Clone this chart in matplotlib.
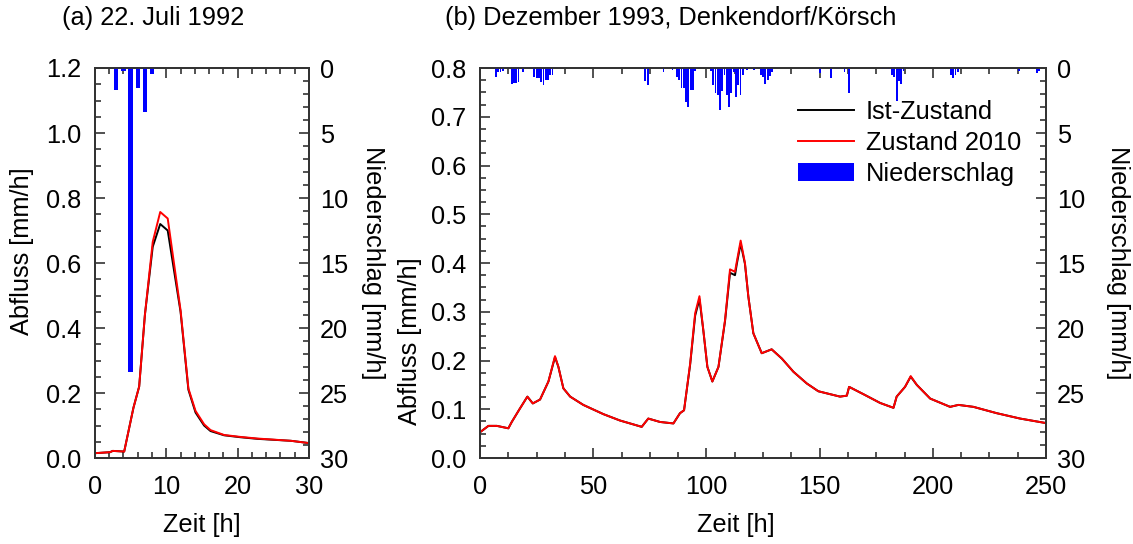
import numpy as np
import matplotlib
matplotlib.use('Agg')
import matplotlib.pyplot as plt
from matplotlib.ticker import MultipleLocator

plt.rcParams['font.family'] = ['Liberation Sans', 'DejaVu Sans']
FS = 18.3

# (a) 22. Juli 1992
a_time = [0, 2.1, 2.5, 4.1, 5.4, 6.2, 7.0, 8.1, 9.15, 10.2, 12.0, 13.1, 14.1, 15.3, 16.2, 18.1, 20.4, 22.8, 27.5, 30.0]
a_ist = [0.015, 0.018, 0.022, 0.02, 0.155, 0.22, 0.44, 0.65, 0.72, 0.70, 0.45, 0.21, 0.14, 0.10, 0.083, 0.07, 0.064, 0.059, 0.053, 0.046]
a_2010 = [0.015, 0.018, 0.022, 0.02, 0.155, 0.22, 0.44, 0.665, 0.757, 0.737, 0.455, 0.214, 0.145, 0.104, 0.086, 0.071, 0.065, 0.060, 0.053, 0.046]
a_rain_h = [3, 4, 5, 6, 7, 8]
a_rain = [1.7, 0.25, 23.4, 1.5, 3.4, 0.45]

# (b) Dezember 1993
b_time = [0, 3.7, 7.4, 12.5, 14, 17.4, 20.9, 23.3, 26.5, 30.2, 33.1, 34.6, 36.8, 39.8, 45.6,
          54.5, 61.8, 71.4, 74.3, 79.5, 85.4, 88.3, 90.1, 92.8, 95, 96.9, 98.6, 100.4, 102.6,
          105.3, 108.2, 110.4, 112.6, 113.4, 115.1, 117, 118.5, 120.7, 124.4, 128.8, 133.3,
          138.4, 144.3, 149.4, 154.6, 159, 162, 163, 169.3, 176.7, 182.6, 184, 187.7, 190.2,
          192.9, 198.8, 207.6, 211.3, 217.9, 228.2, 238.5, 249.6]
b_2010 = [0.053, 0.066, 0.066, 0.061, 0.074, 0.10, 0.126, 0.112, 0.12, 0.157, 0.209, 0.187,
          0.143, 0.126, 0.109, 0.090, 0.077, 0.064, 0.081, 0.074, 0.071, 0.092, 0.098, 0.194,
          0.297, 0.332, 0.263, 0.187, 0.157, 0.187, 0.283, 0.387, 0.382, 0.403, 0.446, 0.40,
          0.331, 0.256, 0.215, 0.223, 0.204, 0.177, 0.153, 0.137, 0.131, 0.126, 0.128, 0.146,
          0.131, 0.113, 0.103, 0.126, 0.146, 0.168, 0.150, 0.122, 0.105, 0.109, 0.105, 0.092,
          0.081, 0.072]
b_ist = [0.053, 0.066, 0.066, 0.061, 0.074, 0.10, 0.126, 0.112, 0.12, 0.157, 0.207, 0.187,
         0.143, 0.126, 0.109, 0.090, 0.077, 0.064, 0.081, 0.074, 0.071, 0.092, 0.098, 0.192,
         0.292, 0.326, 0.262, 0.187, 0.157, 0.187, 0.281, 0.380, 0.375, 0.398, 0.440, 0.398,
         0.331, 0.256, 0.215, 0.223, 0.204, 0.177, 0.153, 0.137, 0.131, 0.126, 0.128, 0.146,
         0.131, 0.113, 0.103, 0.126, 0.146, 0.167, 0.150, 0.122, 0.105, 0.109, 0.105, 0.092,
         0.081, 0.072]
b_rain_h = [7, 8, 9, 10, 14, 15, 16, 17, 19, 23, 24, 25, 26, 27, 28, 29, 30, 31, 32,
            73, 74, 81, 85, 87, 88, 89, 90, 91, 92, 93, 94, 95, 102, 103, 104, 105, 106, 107,
            108, 109, 110, 111, 112, 113, 114, 115, 116, 118, 121, 124, 125, 126, 127, 128, 129,
            150, 155, 158, 161, 163, 178, 180, 182, 183, 184, 185, 186, 187, 208, 209, 210, 211,
            238, 246, 247]
b_rain = [0.67, 0.3, 0.3, 0.2, 1.25, 1.13, 1.13, 1.1, 0.3, 0.1, 0.7, 0.8, 0.8, 1.1, 1.33, 0.9, 0.9, 0.5, 0.5,
          1.0, 1.3, 0.3, 0.15, 0.7, 0.9, 1.5, 1.5, 2.6, 3.0, 1.7, 1.7, 0.2, 0.2, 1.3, 1.9, 2.1, 3.2, 1.8,
          0.5, 2.1, 3.0, 1.9, 0.3, 2.2, 1.3, 2.1, 0.5, 0.15, 0.15, 0.5, 0.7, 1.2, 0.9, 0.6, 0.3,
          0.4, 0.8, 0.1, 0.3, 1.9, 0.1, 0.1, 0.5, 0.7, 2.5, 1.0, 1.2, 0.2, 0.5, 0.8, 0.5, 0.3,
          0.2, 0.4, 0.2]

spine_col = '#333333'


def style(ax, xmaj, xmin, ymaj, ymin, right=False):
    ax.xaxis.set_major_locator(MultipleLocator(xmaj))
    ax.xaxis.set_minor_locator(MultipleLocator(xmin))
    ax.yaxis.set_major_locator(MultipleLocator(ymaj))
    ax.yaxis.set_minor_locator(MultipleLocator(ymin))
    ax.tick_params(which='both', direction='in', top=True, bottom=True,
                   left=not right, right=right, labelleft=not right, labelright=right,
                   color=spine_col, width=1.2, labelsize=FS)
    ax.tick_params(which='major', length=7)
    ax.tick_params(which='minor', length=4)
    ax.tick_params(axis='x', pad=12)
    ax.tick_params(axis='y', pad=10 if not right else 8)
    for s in ax.spines.values():
        s.set_color(spine_col)
        s.set_linewidth(1.3)


fig = plt.figure(figsize=(11.33, 5.44), dpi=100)

# panel (a)
axa = fig.add_axes([0.0838, 0.158, 0.1889, 0.717])
axa.plot(a_time, a_ist, color='black', lw=1.4, label='Ist-Zustand')
axa.plot(a_time, a_2010, color='red', lw=1.4, label='Zustand 2010')
axa.set_xlim(0, 30)
axa.set_ylim(0, 1.2)
style(axa, 10, 2, 0.2, 0.05)
axa.set_xlabel('Zeit [h]', fontsize=FS)
axa.xaxis.set_label_coords(0.5, -0.14)
axa.set_ylabel('Abfluss [mm/h]', fontsize=FS, va='center', ha='center')
axa.yaxis.set_label_coords(-0.34, 0.53)
axa.yaxis.set_major_formatter(lambda v, p: f'{v:.1f}')

axa2 = axa.twinx()
axa2.bar(a_rain_h, a_rain, width=0.6, color='blue', align='center')
axa2.set_ylim(30, 0)
style(axa2, 10, 2, 5, 1, right=True)
axa2.tick_params(top=False, bottom=False, labelbottom=False)
axa2.set_ylabel('Niederschlag [mm/h]', fontsize=FS, rotation=270, va='center', ha='center')
axa2.yaxis.set_label_coords(1.30, 0.50)

# panel (b)
axb = fig.add_axes([0.4237, 0.158, 0.4996, 0.717])
axb.plot(b_time, b_ist, color='black', lw=1.4, label='Ist-Zustand')
axb.plot(b_time, b_2010, color='red', lw=1.4, label='Zustand 2010')
axb.set_xlim(0, 250)
axb.set_ylim(0, 0.8)
style(axb, 50, 12.5, 0.1, 0.025)
axb.set_xlabel('Zeit [h]', fontsize=FS)
axb.xaxis.set_label_coords(0.452, -0.14)
axb.set_ylabel('Abfluss [mm/h]', fontsize=FS, va='center', ha='center')
axb.yaxis.set_label_coords(-0.124, 0.30)
axb.yaxis.set_major_formatter(lambda v, p: f'{v:.1f}')

axb2 = axb.twinx()
bars = axb2.bar(b_rain_h, b_rain, width=0.8, color='blue', align='center',
                label='Niederschlag')
axb2.set_ylim(30, 0)
style(axb2, 50, 12.5, 5, 1, right=True)
axb2.tick_params(top=False, bottom=False, labelbottom=False)
axb2.set_ylabel('Niederschlag [mm/h]', fontsize=FS, rotation=270, va='center', ha='center')
axb2.yaxis.set_label_coords(1.127, 0.50)

h1, l1 = axb.get_legend_handles_labels()
leg = axb2.legend(h1 + [bars], l1 + ['Niederschlag'], loc='upper left',
                  bbox_to_anchor=(0.562, 0.918), frameon=False, fontsize=FS,
                  borderpad=0, borderaxespad=0, handlelength=2.2,
                  handletextpad=0.45, labelspacing=0.28)

fig.text(0.0547, 0.967, '(a) 22. Juli 1992', fontsize=FS, ha='left', va='center')
fig.text(0.3928, 0.967, '(b) Dezember 1993, Denkendorf/Körsch', fontsize=FS,
         ha='left', va='center')

fig.savefig('out.png', dpi=100)
